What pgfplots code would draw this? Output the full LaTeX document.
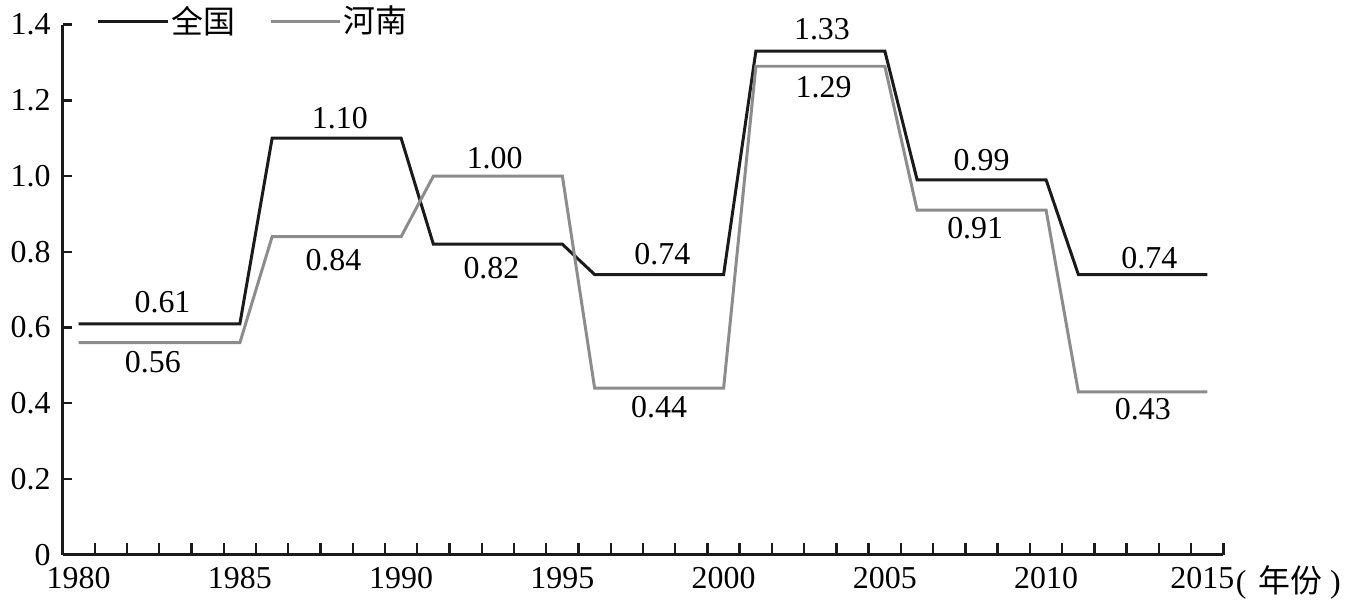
\documentclass[border=0pt]{standalone}
\usepackage{fontspec}
\setmainfont{Liberation Serif}
\newfontfamily\cjk{Noto Sans CJK SC}
\usepackage{pgfplots}
\pgfplotsset{compat=1.18}

\definecolor{natl}{HTML}{1A1A1A}
\definecolor{henan}{HTML}{8C8C8C}

\pgfplotstableread{
year quanguo henan
1980 0.61 0.56
1985 0.61 0.56
1986 1.10 0.84
1990 1.10 0.84
1991 0.82 1.00
1995 0.82 1.00
1996 0.74 0.44
2000 0.74 0.44
2001 1.33 1.29
2005 1.33 1.29
2006 0.99 0.91
2010 0.99 0.91
2011 0.74 0.43
2015 0.74 0.43
}\datatable

\begin{document}
\fontsize{16}{19}\selectfont
\begin{tikzpicture}
\begin{axis}[
  scale only axis,
  width=582.5pt, height=266pt,
  xmin=1979.5, xmax=2015.5,
  ymin=0, ymax=1.4,
  axis lines*=left,
  axis line style={line width=1.4pt, color=natl},
  tick align=inside,
  xtick={1980,1985,...,2015},
  xticklabels={1980,1985,1990,1995,2000,2005,2010,\hspace*{-5pt}2015},
  major tick length=0pt,
  minor xtick={1980.5,1981.5,...,2015.5},
  minor tick length=6pt,
  minor tick style={line width=1.2pt, color=natl},
  ytick={0,0.2,...,1.41},
  yticklabels={0,0.2,0.4,0.6,0.8,1.0,1.2,1.4},
  extra y ticks={0.2,0.4,0.6,0.8,1.0,1.2,1.4},
  extra y tick labels={},
  extra y tick style={major tick length=5pt, tick style={line width=1.2pt, color=natl}},
  xticklabel style={yshift=-1pt},
  yticklabel style={xshift=-0.5pt},
  /pgf/number format/assume math mode=true,
  legend columns=2,
  legend style={draw=none, fill=none, at={(0.024,1.005)}, anchor=west,
    font=\cjk\fontsize{16}{19}\selectfont,
    /tikz/every even column/.append style={column sep=16pt},
    nodes={inner sep=1pt}},
  legend image code/.code={\draw[#1] (0pt,0pt) -- (35pt,0pt);},
  clip=false,
]
\addplot[natl, line width=1.5pt] table[x=year, y=quanguo] {\datatable};
\addlegendentry{全国}
\addplot[henan, line width=1.5pt] table[x=year, y=henan] {\datatable};
\addlegendentry{河南}

\node at (axis cs:1982.6,0.668) {0.61};
\node at (axis cs:1982.3,0.508) {0.56};
\node at (axis cs:1988.1,1.153) {1.10};
\node at (axis cs:1987.9,0.779) {0.84};
\node at (axis cs:1992.9,1.047) {1.00};
\node at (axis cs:1992.8,0.758) {0.82};
\node at (axis cs:1998.1,0.795) {0.74};
\node at (axis cs:1998.0,0.389) {0.44};
\node at (axis cs:2003.05,1.389) {1.33};
\node at (axis cs:2003.1,1.234) {1.29};
\node at (axis cs:2008.0,1.042) {0.99};
\node at (axis cs:2007.8,0.863) {0.91};
\node at (axis cs:2013.2,0.784) {0.74};
\node at (axis cs:2013.0,0.384) {0.43};

\node[anchor=north west, inner sep=0pt] at ([xshift=6pt, yshift=-5pt]rel axis cs:1,0) {(\hspace{6pt}{\cjk 年份}\hspace{4pt})};
% keep the page the size of the reference
\path ([xshift=-29pt, yshift=-20pt]rel axis cs:0,0) rectangle ([xshift=69.5pt, yshift=12pt]rel axis cs:1,1);
\end{axis}
\end{tikzpicture}
\end{document}
